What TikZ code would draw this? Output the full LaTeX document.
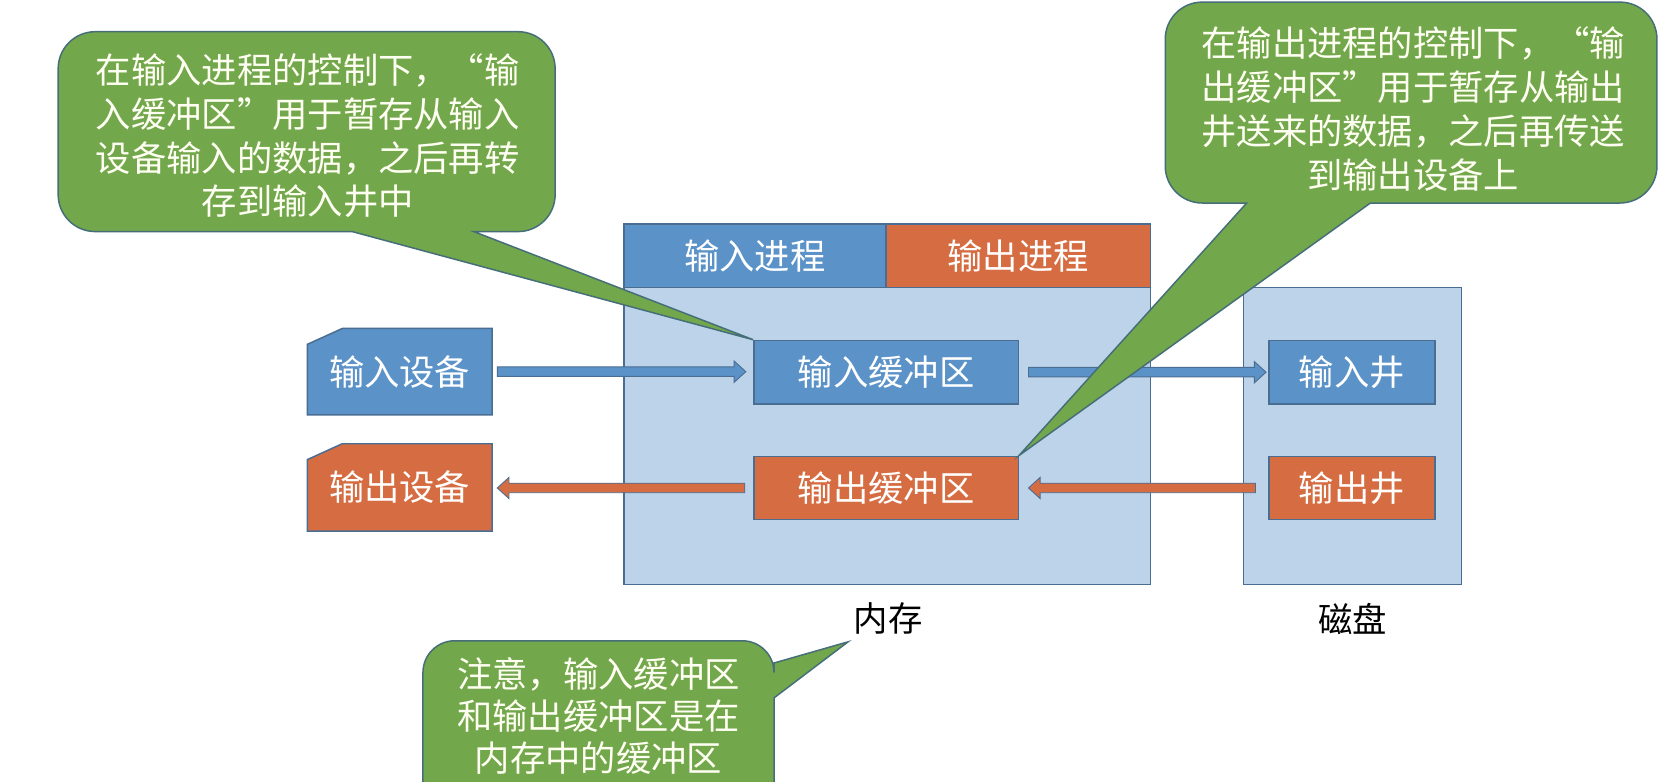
\documentclass[tikz,border=0pt]{standalone}
\usepackage{fontspec}
\setmainfont{Noto Sans CJK SC}
\usetikzlibrary{backgrounds,calc}
\definecolor{bblue}{RGB}{91,146,200}
\definecolor{borange}{RGB}{214,109,66}
\definecolor{lblue}{RGB}{188,211,234}
\definecolor{cgreen}{RGB}{114,168,75}
\definecolor{edge}{RGB}{74,110,146}
\definecolor{cedge}{RGB}{70,110,120}
\newcommand{\blockarrow}[3]{%
  \draw[fill=#1, draw=edge, line width=0.5pt] let \p1=(#2), \p2=(#3), \n1={sign(\x2-\x1)} in
    (\x1,\y1+0.09cm) -- (\x2-\n1*0.22cm,\y1+0.09cm) -- (\x2-\n1*0.22cm,\y1+0.2cm) --
    (\x2,\y1) -- (\x2-\n1*0.22cm,\y1-0.2cm) -- (\x2-\n1*0.22cm,\y1-0.09cm) --
    (\x1,\y1-0.09cm) -- cycle;}
\begin{document}
\begin{tikzpicture}[x=0.02cm,y=-0.02cm,
  boxtext/.style={text=white, font=\fontsize{19}{22}\selectfont, inner sep=0pt},
  solid box/.style={boxtext, draw=edge, line width=0.8pt, minimum width=#1, minimum height=1.2cm},
  bluebox/.style={solid box=#1, fill=bblue},
  orangebox/.style={solid box=#1, fill=borange},
  panel/.style={draw=edge, line width=0.8pt, fill=lblue, inner sep=0pt},
  callout/.style={fill=cgreen, draw=cedge, line width=0.8pt},
  callouttext/.style={text=white!95!yellow, align=center, inner sep=0pt},
  label/.style={text=black, font=\fontsize{18.5}{20}\selectfont, inner sep=0pt}]
\useasboundingbox (0,0) rectangle (1568,739);
\begin{pgfonlayer}{background}
\fill[white] (0,0) rectangle (1568,739);
\end{pgfonlayer}

% memory and disk panels
\node[panel, minimum width=9.96cm, minimum height=6.82cm] (mem) at (839,382.5) {};
\node[panel, minimum width=4.12cm, minimum height=5.62cm] (disk) at (1279,412.5) {};
\node[bluebox=4.96cm] (ip) at (714,242) {输入进程};
\node[orangebox=5cm] (op) at (963,242) {输出进程};

\node[bluebox=5cm] (ib) at (838,352) {输入缓冲区};
\node[orangebox=5cm] (ob) at (838,461.5) {输出缓冲区};
\node[bluebox=3.14cm] (iw) at (1278.5,352) {输入井};
\node[orangebox=3.14cm] (ow) at (1278.5,461.5) {输出井};

% devices (snipped corner)
\node[boxtext, minimum width=3.48cm, minimum height=1.62cm] (din) at (378,351.5) {输入设备};
\node[boxtext, minimum width=3.48cm, minimum height=1.64cm] (dout) at (378,461) {输出设备};
\begin{pgfonlayer}{background}
\draw[fill=bblue, draw=edge, line width=0.8pt] (din.south west) -- ([yshift=-0.3cm]din.north west)
  -- ([xshift=0.66cm]din.north west) -- (din.north east) -- (din.south east) -- cycle;
\draw[fill=borange, draw=edge, line width=0.8pt] (dout.south west) -- ([yshift=-0.3cm]dout.north west)
  -- ([xshift=0.66cm]dout.north west) -- (dout.north east) -- (dout.south east) -- cycle;
\end{pgfonlayer}

\node[label] (lmem) at (840,585) {内存};
\node[label] (ldisk) at (1279,585) {磁盘};

% arrows
\blockarrow{bblue}{[xshift=0.1cm]din.east}{[xshift=-0.14cm]ib.west}
\blockarrow{bblue}{[xshift=0.18cm]ib.east}{[xshift=-0.04cm]iw.west}
\blockarrow{borange}{[xshift=-0.24cm]ow.west}{[xshift=0.18cm]ob.east}
\blockarrow{borange}{[xshift=-0.16cm]ob.west}{[xshift=0.1cm]dout.east}

% callouts
\draw[callout, rounded corners=0.7cm] (55,125) -- (55,219) [sharp corners] -- (333,219) -- (ib.north west)
  -- (448,219) [rounded corners=0.7cm] -- (525,219) -- (525,30) -- (55,30) -- cycle;
\node[callouttext, font=\fontsize{19}{23.6}\selectfont] (lc) at (291,128.5)
  {在输入进程的控制下，“输\\入缓冲区”用于暂存从输入\\设备输入的数据，之后再转\\存到输入井中};

\draw[callout, rounded corners=0.7cm] (1567,96) -- (1567,192) [sharp corners] -- (1296,192) -- (ob.north east)
  -- (1179,192) [rounded corners=0.7cm] -- (1102,192) -- (1102,2) -- (1567,2) -- cycle;
\node[callouttext, font=\fontsize{19}{23.6}\selectfont] (rc) at (1336.5,103)
  {在输出进程的控制下，“输\\出缓冲区”用于暂存从输出\\井送来的数据，之后再传送\\到输出设备上};

\coordinate (btip) at (802,607);
\draw[callout, rounded corners=0.6cm] (400,680) -- (400,606) -- (732,606) [sharp corners] -- (732,627) -- (btip)
  -- (732,660) [rounded corners=0.6cm] -- (732,790) -- (400,790) -- cycle;
\node[callouttext, font=\fontsize{19}{22.5}\selectfont] (bc) at (566,677)
  {注意，输入缓冲区\\和输出缓冲区是在\\内存中的缓冲区};
\end{tikzpicture}
\end{document}
